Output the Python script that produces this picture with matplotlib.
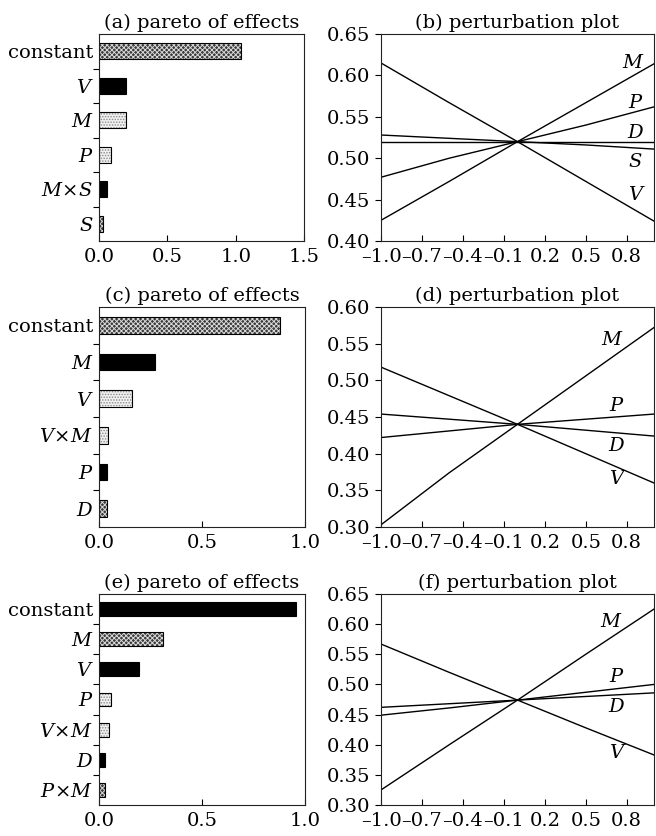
import numpy as np
import matplotlib
import matplotlib.pyplot as plt
from matplotlib.ticker import FixedLocator, FuncFormatter

plt.rcParams['font.family'] = ['DejaVu Serif']
plt.rcParams['mathtext.fontset'] = 'dejavuserif'
plt.rcParams['hatch.linewidth'] = 0.7

# ---------------- data ----------------
# pareto of effects (top -> bottom)
pareto_a_terms = ['constant', '$V$', '$M$', '$P$', r'$M\!\times\! S$', '$S$']
pareto_a_vals = [1.04, 0.20, 0.195, 0.09, 0.056, 0.027]
pareto_c_terms = ['constant', '$M$', '$V$', r'$V\!\times\! M$', '$P$', '$D$']
pareto_c_vals = [0.88, 0.273, 0.159, 0.042, 0.037, 0.037]
pareto_e_terms = ['constant', '$M$', '$V$', '$P$', r'$V\!\times\! M$', '$D$', r'$P\!\times\! M$']
pareto_e_vals = [0.958, 0.31, 0.196, 0.058, 0.047, 0.031, 0.028]

# perturbation plots: deviation from reference point
dev = [-1.0, -0.5, 0.0, 0.5, 1.0]
pert_b = {
    'M': [0.425, 0.472, 0.520, 0.567, 0.614],
    'P': [0.477, 0.500, 0.520, 0.540, 0.562],
    'D': [0.520, 0.520, 0.520, 0.520, 0.520],
    'S': [0.528, 0.524, 0.520, 0.516, 0.511],
    'V': [0.615, 0.567, 0.520, 0.472, 0.424],
}
pert_d = {
    'M': [0.303, 0.374, 0.440, 0.506, 0.572],
    'P': [0.422, 0.431, 0.440, 0.447, 0.454],
    'D': [0.454, 0.447, 0.440, 0.432, 0.424],
    'V': [0.518, 0.479, 0.440, 0.400, 0.360],
}
pert_f = {
    'M': [0.325, 0.400, 0.474, 0.550, 0.625],
    'P': [0.449, 0.461, 0.474, 0.487, 0.500],
    'D': [0.462, 0.468, 0.474, 0.480, 0.486],
    'V': [0.567, 0.520, 0.474, 0.428, 0.383],
}

# bar fill styles: 'dark' crosshatch, 'black', 'light' dotted
style_a = ['dark', 'black', 'light', 'light', 'black', 'dark']
style_c = ['dark', 'black', 'light', 'light', 'black', 'dark']
style_e = ['black', 'dark', 'black', 'light', 'light', 'black', 'dark']

fills = {
    'dark': dict(fc='#3a3a3a', hc='#d8d8d8', hatch='xxxxxxx'),
    'black': dict(fc='black', hc='black', hatch=None),
    'light': dict(fc='#f0f0f0', hc='#8a8a8a', hatch='......'),
}

fig = plt.figure(figsize=(6.56, 8.36), dpi=100)
W, H = 656.0, 836.0


def add_ax(l, r, t, b):
    return fig.add_axes([l / W, 1 - b / H, (r - l) / W, (b - t) / H])


FS = 14
# en dash as the minus sign, narrow enough that the crowded tick labels fit
minus_fmt = lambda fmt: FuncFormatter(lambda v, p: (fmt % v).replace('-', '\u2013'))


def style_frame(ax):
    for s in ax.spines.values():
        s.set_linewidth(0.8)
        s.set_color('#222222')
    ax.tick_params(axis='x', direction='in', length=4, width=0.8, labelsize=FS, pad=5)
    ax.tick_params(axis='y', direction='out', length=4, width=0.8, labelsize=FS)


def pareto(ax, terms, vals, styles, xmax, xticks, title):
    n = len(terms)
    pos = np.arange(n)
    for p, v, st in zip(pos, vals, styles):
        f = fills[st]
        ax.barh(p, v, height=0.46, color=f['fc'], edgecolor=f['hc'],
                hatch=f['hatch'], linewidth=0)
        ax.barh(p, v, height=0.46, fill=False, edgecolor='black', linewidth=0.8)
    ax.set_ylim(n - 0.5, -0.5)
    ax.set_xlim(0, xmax)
    ax.set_yticks(pos)
    ax.set_yticklabels(terms)
    ax.yaxis.set_minor_locator(FixedLocator(pos[:-1] + 0.5))
    ax.set_xticks(xticks)
    ax.xaxis.set_major_formatter(minus_fmt('%.1f'))
    style_frame(ax)
    ax.tick_params(axis='y', which='major', length=0, pad=4)
    ax.tick_params(axis='y', which='minor', direction='out', length=4, width=0.8)
    ax.set_title(title, fontsize=FS, pad=4)


def perturb(ax, curves, ylim, yticks, labels, title):
    for k, ys in curves.items():
        ax.plot(dev, ys, color='black', linewidth=1.0)
    for k, (lx, ly) in labels.items():
        ax.text(lx, ly, k, fontsize=FS, style='italic', ha='center', va='center')
    ax.set_xlim(-1.0, 1.0)
    ax.set_ylim(*ylim)
    ax.set_xticks([-1.0, -0.7, -0.4, -0.1, 0.2, 0.5, 0.8])
    ax.xaxis.set_major_formatter(minus_fmt('%.1f'))
    ax.set_yticks(yticks)
    ax.yaxis.set_major_formatter(minus_fmt('%.2f'))
    style_frame(ax)
    ax.set_title(title, fontsize=FS, pad=4)


ax_a = add_ax(99, 304, 34, 241)
pareto(ax_a, pareto_a_terms, pareto_a_vals, style_a, 1.5, [0, 0.5, 1.0, 1.5],
       '(a) pareto of effects')
ax_b = add_ax(381, 654, 34, 241)
perturb(ax_b, pert_b, (0.40, 0.65), np.arange(0.40, 0.651, 0.05),
        {'M': (0.84, 0.615), 'P': (0.86, 0.567), 'D': (0.86, 0.531),
         'S': (0.86, 0.496), 'V': (0.86, 0.456)},
        '(b) perturbation plot')

ax_c = add_ax(99, 305, 307, 527)
pareto(ax_c, pareto_c_terms, pareto_c_vals, style_c, 1.0, [0, 0.5, 1.0],
       '(c) pareto of effects')
ax_d = add_ax(381, 654, 307, 527)
perturb(ax_d, pert_d, (0.30, 0.60), np.arange(0.30, 0.601, 0.05),
        {'M': (0.69, 0.555), 'P': (0.72, 0.465), 'D': (0.72, 0.411),
         'V': (0.72, 0.366)},
        '(d) perturbation plot')

ax_e = add_ax(99, 305, 594, 805)
pareto(ax_e, pareto_e_terms, pareto_e_vals, style_e, 1.0, [0, 0.5, 1.0],
       '(e) pareto of effects')
ax_f = add_ax(381, 654, 594, 805)
perturb(ax_f, pert_f, (0.30, 0.65), np.arange(0.30, 0.651, 0.05),
        {'M': (0.68, 0.604), 'P': (0.72, 0.512), 'D': (0.72, 0.463),
         'V': (0.72, 0.386)},
        '(f) perturbation plot')

fig.savefig('out.png', dpi=100)
